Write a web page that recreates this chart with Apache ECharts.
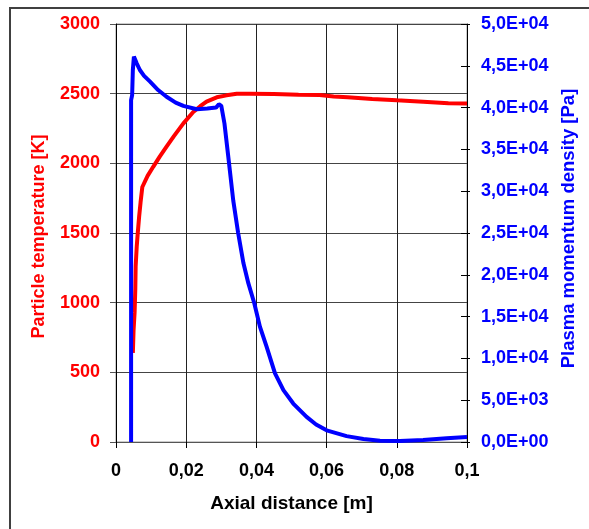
<!DOCTYPE html>
<html>
<head>
<meta charset="utf-8">
<script src="https://cdn.jsdelivr.net/npm/echarts@6/dist/echarts.min.js"></script>
<style>html,body{margin:0;padding:0;background:#fff}#c{width:589px;height:529px}</style>
</head>
<body>
<div id="c"></div>
<script>
// Particle temperature [K] vs axial distance [m]
const tempX = [0.0048,0.0050,0.0053,0.0055,0.0056,0.0059,0.0062,0.0066,0.0070,0.0075,0.0090,0.0106,0.0125,0.0144,0.0165,0.0192,0.0220,0.0240,0.0258,0.0287,0.0315,0.0344,0.0380,0.0450,0.0520,0.0580,0.0620,0.0660,0.0730,0.0800,0.0875,0.0947,0.1000];
const tempY = [640,800,930,1100,1260,1400,1500,1620,1720,1830,1910,1975,2050,2120,2195,2287,2368,2410,2443,2474,2488,2500,2500,2497,2492,2490,2480,2474,2462,2452,2442,2432,2430];
// Plasma momentum density [Pa] vs axial distance [m]
const pressX = [0.0043,0.0043,0.0043,0.0046,0.0048,0.0051,0.0059,0.0068,0.0080,0.0097,0.0120,0.0144,0.0170,0.0192,0.0230,0.0260,0.0285,0.0293,0.0300,0.0309,0.0320,0.0334,0.0348,0.0363,0.0377,0.0394,0.0410,0.0429,0.0453,0.0477,0.0505,0.0543,0.0570,0.0600,0.0657,0.0705,0.0752,0.0809,0.0875,0.0942,0.1000];
const pressY = [0,20000,40900,41500,44500,46100,45300,44500,43800,43100,42100,41300,40600,40200,39800,39900,40000,40400,40200,38100,34100,28900,25000,21400,19000,16600,13800,11400,8200,6200,4600,3000,2100,1400,700,360,160,130,240,440,600];
// Axis ticks
const xTicks = [0, 0.02, 0.04, 0.06, 0.08, 0.1];
const leftTicks = [0, 500, 1000, 1500, 2000, 2500, 3000];
const rightTicks = [0, 5000, 10000, 15000, 20000, 25000, 30000, 35000, 40000, 45000, 50000];

const FONT = 'Liberation Sans';
const tempData = tempX.map((x, i) => [x, tempY[i]]);
const pressData = pressX.map((x, i) => [x, pressY[i]]);

function sci(v) {
  const s = Number(v).toExponential(1).split('e');
  const sign = s[1][0] === '-' ? '-' : '+';
  const d = String(Math.abs(parseInt(s[1], 10))).padStart(2, '0');
  return s[0].replace('.', ',') + 'E' + sign + d;
}

const chart = echarts.init(document.getElementById('c'), null, {renderer: 'canvas'});
chart.setOption({
  animation: false,
  backgroundColor: '#fff',
  graphic: [{
    type: 'rect', silent: true,
    shape: {x: 10, y: 8, width: 640, height: 600},
    style: {fill: 'none', stroke: '#404040', lineWidth: 2}
  }],
  grid: {left: 116, right: 122, top: 24, bottom: 87, show: true, borderColor: '#999', borderWidth: 1, backgroundColor: 'transparent'},
  xAxis: {
    type: 'value', min: xTicks[0], max: xTicks[xTicks.length - 1], interval: 0.02,
    name: 'Axial distance [m]', nameLocation: 'middle', nameGap: 52,
    nameTextStyle: {fontFamily: FONT, fontWeight: 'bold', fontSize: 19, color: '#000'},
    axisLine: {show: true, onZero: false, lineStyle: {color: '#555', width: 1}},
    axisTick: {show: true, length: 6, lineStyle: {color: '#000'}},
    axisLabel: {margin: 20, fontFamily: FONT, fontWeight: 'bold', fontSize: 18, color: '#000',
      formatter: v => String(+v.toFixed(2)).replace('.', ',')},
    splitLine: {show: true, lineStyle: {color: '#222', width: 1}}
  },
  yAxis: [{
    type: 'value', position: 'left', min: leftTicks[0], max: leftTicks[leftTicks.length - 1], interval: 500,
    name: 'Particle temperature [K]', nameLocation: 'middle', nameGap: 68,
    nameTextStyle: {fontFamily: FONT, fontWeight: 'bold', fontSize: 18, color: '#ff0000', padding: [0, 7, 0, 0]},
    axisLine: {show: true, lineStyle: {color: '#000', width: 1}},
    axisTick: {show: true, length: 6, lineStyle: {color: '#555'}},
    axisLabel: {margin: 16, fontFamily: FONT, fontWeight: 'bold', fontSize: 18, color: '#ff0000',
      formatter: v => String(v)},
    splitLine: {show: true, lineStyle: {color: '#444', width: 1}}
  }, {
    type: 'value', position: 'right', min: rightTicks[0], max: rightTicks[rightTicks.length - 1], interval: 5000,
    name: 'Plasma momentum density [Pa]', nameLocation: 'middle', nameGap: 79,
    nameTextStyle: {fontFamily: FONT, fontWeight: 'bold', fontSize: 18.5, color: '#0000ff', padding: [0, 0, 0, 9]},
    axisLine: {show: true, lineStyle: {color: '#000', width: 1}},
    axisTick: {show: true, length: 3, lineStyle: {color: '#000'}},
    axisLabel: {margin: 14, fontFamily: FONT, fontWeight: 'bold', fontSize: 18, color: '#0000ff', formatter: sci},
    splitLine: {show: false}
  }, {
    type: 'value', position: 'right', min: rightTicks[0], max: rightTicks[rightTicks.length - 1], interval: 5000,
    axisLine: {show: false},
    axisTick: {show: true, inside: true, length: 6, lineStyle: {color: '#000'}},
    axisLabel: {show: false},
    splitLine: {show: false}
  }],
  series: [{
    type: 'line', name: 'Particle temperature', yAxisIndex: 0, data: tempData,
    showSymbol: false, symbol: 'none', smooth: false,
    lineStyle: {color: '#ff0000', width: 4}, z: 3
  }, {
    type: 'line', name: 'Plasma momentum density', yAxisIndex: 1, data: pressData,
    showSymbol: false, symbol: 'none', smooth: false,
    lineStyle: {color: '#0000ff', width: 4}, z: 4
  }]
});
</script>
</body>
</html>
